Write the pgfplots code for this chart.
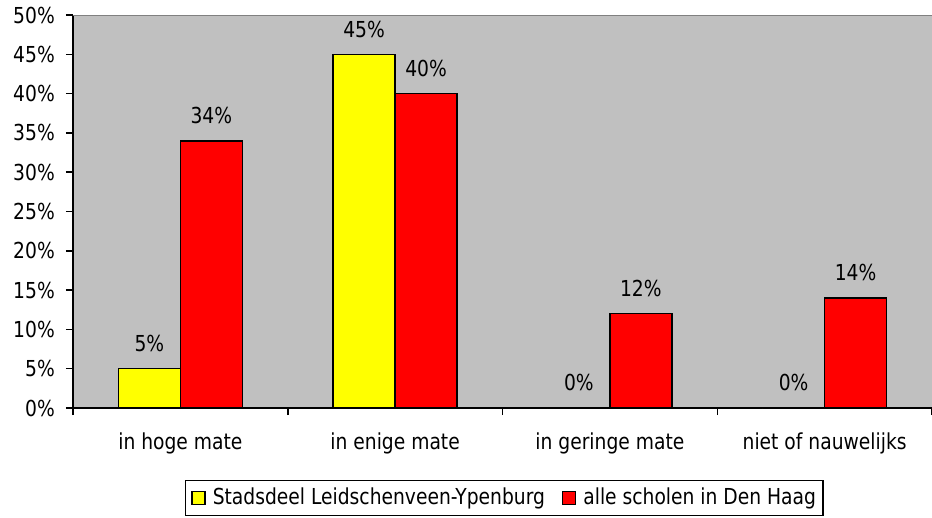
\documentclass[border=0pt]{standalone}
\usepackage{fontspec}
\setmainfont{DejaVu Sans}[FakeStretch=0.85]
\usepackage{pgfplots}
\pgfplotsset{compat=1.18}

\definecolor{plotgray}{HTML}{C0C0C0}
\definecolor{framegray}{HTML}{808080}
\definecolor{barred}{HTML}{FF0000}
\definecolor{baryellow}{HTML}{FFFF00}

\begin{document}
\fontsize{22}{26}\selectfont
\begin{tikzpicture}
\useasboundingbox (-73pt,-109pt) rectangle (859pt,408pt);
\begin{axis}[
    at={(0,0)}, anchor=south west,
    scale only axis,
    width=859pt, height=393pt,
    ybar=0pt, bar width=62pt,
    xmin=0.5, xmax=4.5,
    ymin=0, ymax=50,
    axis x line*=bottom, axis y line*=left,
    axis line style={line width=1.5pt, black},
    axis background/.style={fill=plotgray},
    xtick={1,2,3,4},
    xticklabels={in hoge mate, in enige mate, in geringe mate, niet of nauwelijks},
    minor xtick={0.5,1.5,2.5,3.5,4.5},
    major x tick style={draw=none},
    ytick={0,5,...,50},
    yticklabel={\pgfmathprintnumber{\tick}\%},
    /pgf/number format/assume math mode=true,
    tick align=outside,
    major tick length=7pt, minor tick length=7pt,
    tick style={line width=1.5pt, black},
    yticklabel style={inner sep=0pt, xshift=-11pt},
    xticklabel style={inner sep=0pt, yshift=-18pt},
    nodes near coords={\pgfmathprintnumber{\pgfplotspointmeta}\%},
    every node near coord/.append style={inner sep=0pt, yshift=16pt, black},
    legend columns=2,
    legend style={at={(0.5020,-0.1832)}, anchor=north, draw=black, line width=1.2pt,
        fill=white, inner xsep=6pt, inner ysep=6.5pt,
        nodes={inner sep=1pt},
        /tikz/every even column/.append style={column sep=16pt}},
    legend cell align=left,
    legend image code/.code={
        \draw[#1, line width=1.2pt] (0pt,-6pt) rectangle (13pt,7pt);
        \path (19pt,0pt);},
]
\addplot[fill=baryellow, draw=black, line width=1.5pt]
    coordinates {(1,5) (2,45) (3,0) (4,0)};
\addplot[fill=barred, draw=black, line width=1.5pt]
    coordinates {(1,34) (2,40) (3,12) (4,14)};
\legend{Stadsdeel Leidschenveen-Ypenburg, alle scholen in Den Haag}
\draw[framegray, line width=2pt] (rel axis cs:0,1) -- (rel axis cs:1,1);
\end{axis}
\end{tikzpicture}
\end{document}
